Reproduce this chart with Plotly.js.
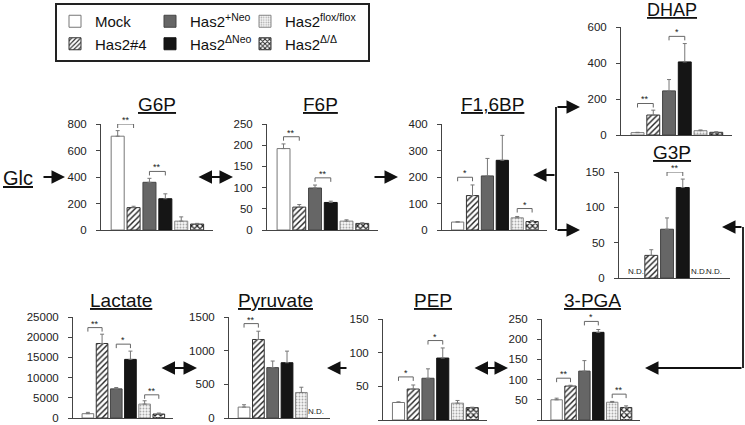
<!DOCTYPE html>
<html>
<head>
<meta charset="utf-8">
<script src="https://cdn.plot.ly/plotly-3.0.1.min.js"></script>
<style>html,body{margin:0;padding:0;background:#fff;}#chart{width:745px;height:425px;}</style>
</head>
<body>
<div id="chart"></div>
<script>
// ---------- DATA ----------
const genotypes = ['Mock', 'Has2#4', 'Has2<sup>+Neo</sup>', 'Has2<sup>ΔNeo</sup>', 'Has2<sup>flox/flox</sup>', 'Has2<sup>Δ/Δ</sup>'];
const metabolites = ['G6P', 'F6P', 'F1,6BP', 'DHAP', 'G3P', 'Lactate', 'Pyruvate', 'PEP', '3-PGA'];

const g6p      = [708, 169, 360, 236, 67, 45];
const g6pErr   = [42, 10, 30, 37, 32, 5];
const f6p      = [192, 54, 99, 65, 21, 15.5];
const f6pErr   = [11, 6, 7, 3, 3, 1.5];
const f16bp    = [30, 130, 204, 263, 46, 32];
const f16bpErr = [1, 40, 66, 94, 5, 4];
const dhap     = [13, 111, 245, 406, 24, 15];
const dhapErr  = [2, 27, 63, 102, 4, 3];
const g3p      = [null, 32, 69, 128, null, null];
const g3pErr   = [null, 8, 16, 12, null, null];
const lactate    = [1066, 18443, 7213, 14508, 3443, 984];
const lactateErr = [330, 2300, 330, 2050, 820, 250];
const pyruvate    = [162, 1166, 748, 821, 379, null];
const pyruvateErr = [35, 123, 98, 172, 78, null];
const pep    = [26, 46, 62, 92, 25, 18.4];
const pepErr = [1, 6, 14, 15, 4, 0.6];
const pga    = [50, 84, 121, 217, 44, 31];
const pgaErr = [4, 2, 26, 7, 2, 4];

const values = [g6p, f6p, f16bp, dhap, g3p, lactate, pyruvate, pep, pga];
const errors = [g6pErr, f6pErr, f16bpErr, dhapErr, g3pErr, lactateErr, pyruvateErr, pepErr, pgaErr];
const yMax   = [800, 250, 400, 600, 150, 25000, 1500, 150, 250];
const yStep  = [200, 50, 100, 200, 50, 5000, 500, 50, 50];

// significance brackets: [bar1, bar2, level, label]
const sig = [
  [[0, 1, 800, '**'], [2, 3, 442, '**']],
  [[0, 1, 220, '**'], [2, 3, 123, '**']],
  [[0, 1, 199, '*'], [4, 5, 81, '*']],
  [[0, 1, 175, '**'], [2, 3, 548, '*']],
  [[2, 3, 150, '**']],
  [[0, 1, 22377, '**'], [2, 3, 18279, '*'], [4, 5, 5738, '**']],
  [[0, 1, 1402, '**']],
  [[0, 1, 64, '*'], [2, 3, 118, '*']],
  [[0, 1, 103.5, '**'], [2, 3, 244, '*'], [4, 5, 64, '**']]
];

// ---------- LAYOUT GEOMETRY (pixels) ----------
const W = 745, H = 425;
const boxes = [ // [left, right, top, bottom]
  [101, 213, 124, 230],
  [267, 378, 124, 230],
  [442, 547, 124, 230],
  [621, 732, 27, 135],
  [619, 730, 172, 278],
  [73, 173, 317, 418],
  [229, 330, 317, 418],
  [383, 487, 319, 420],
  [542, 640, 319, 420]
];
const titlePos = [[157, 104], [320, 104], [492, 104], [672, 10], [672, 152], [121, 300], [275, 300], [433, 300], [592, 300]];
const px = x => x / W, py = y => 1 - y / H;

const FONT = 'Liberation Sans, Arial, sans-serif';
const styles = [
  {color: '#ffffff', line: '#777', pattern: {shape: ''}},
  {color: '#ffffff', line: '#333', pattern: {shape: '/', fgcolor: '#222', bgcolor: '#ffffff', size: 4, solidity: 0.35}},
  {color: '#666666', line: '#444', pattern: {shape: ''}},
  {color: '#151515', line: '#111', pattern: {shape: ''}},
  {color: '#f4f4f4', line: '#888', pattern: {shape: '.', fgcolor: '#aaa', bgcolor: '#f6f6f6', size: 3, solidity: 0.3}},
  {color: '#ffffff', line: '#333', pattern: {shape: 'x', fgcolor: '#222', bgcolor: '#ffffff', size: 4, solidity: 0.5}}
];
const groups = ['a', 'a', 'b', 'b', 'c', 'c'];

const traces = [];
const layout = {
  width: W, height: H,
  margin: {l: 0, r: 0, t: 0, b: 0},
  paper_bgcolor: '#fff', plot_bgcolor: 'rgba(0,0,0,0)',
  barmode: 'overlay',
  font: {family: FONT, color: '#222'},
  showlegend: true,
  legend: {
    orientation: 'h', traceorder: 'grouped',
    x: px(55), y: py(3), xanchor: 'left', yanchor: 'top',
    bordercolor: '#222', borderwidth: 2, bgcolor: '#fff',
    font: {family: FONT, size: 15, color: '#111'},
    entrywidth: 50, entrywidthmode: 'pixels'
  },
  shapes: [], annotations: []
};

metabolites.forEach((m, k) => {
  const n = k + 1;
  const xa = 'x' + n, ya = 'y' + n;
  const b = boxes[k];
  layout['xaxis' + n] = {
    domain: [px(b[0]), px(b[1])], range: [-1.05, 6], anchor: ya,
    showline: true, linecolor: '#444', linewidth: 1, ticks: '', showticklabels: false,
    showgrid: false, zeroline: false, fixedrange: true
  };
  layout['yaxis' + n] = {
    domain: [py(b[3]), py(b[2])], range: [0, yMax[k]], anchor: xa,
    showline: true, linecolor: '#444', linewidth: 1, ticks: 'outside', ticklen: 4, tickcolor: '#444',
    dtick: yStep[k], tick0: 0, tickformat: 'd', ticklabelstandoff: 7,
    tickfont: {family: FONT, size: 11.5, color: '#222'},
    showgrid: false, zeroline: false, fixedrange: true
  };
  genotypes.forEach((g, j) => {
    const st = styles[j];
    traces.push({
      type: 'bar', x: [j], y: [values[k][j]], width: 0.82,
      xaxis: xa, yaxis: ya, name: g, legendgroup: groups[j], showlegend: k === 0,
      legendwidth: j >= 4 ? 78 : undefined,
      marker: {color: st.color, line: {color: st.line, width: 1}, pattern: st.pattern},
      error_y: {type: 'data', symmetric: false, array: [errors[k][j]], arrayminus: [0],
                color: '#777', thickness: 1, width: 2},
      hoverinfo: 'skip'
    });
    if (values[k][j] === null) {
      layout.annotations.push({xref: xa, yref: ya, x: j, y: 0, text: 'N.D.', showarrow: false,
        yanchor: 'bottom', font: {family: FONT, size: 8, color: '#222'}});
    }
  });
  // brackets
  const d = 4 * yMax[k] / (b[3] - b[2]);
  sig[k].forEach(s => {
    layout.shapes.push({type: 'path', xref: xa, yref: ya,
      path: `M ${s[0]},${s[2] - d} L ${s[0]},${s[2]} L ${s[1]},${s[2]} L ${s[1]},${s[2] - d}`,
      line: {color: '#666', width: 1}});
    layout.annotations.push({xref: xa, yref: ya, x: (s[0] + s[1]) / 2, y: s[2], text: s[3],
      showarrow: false, yanchor: 'bottom', yshift: -3, font: {family: FONT, size: 9, color: '#222'}});
  });
  // title
  const t = titlePos[k];
  const fs = k === 3 ? 18 : 19;
  layout.annotations.push({xref: 'paper', yref: 'paper', x: px(t[0]), y: py(t[1]), text: '<u>' + m + '</u>',
    showarrow: false, xanchor: 'center', yanchor: 'middle', font: {family: FONT, size: fs, color: '#111'}});
});

// Glc label
layout.annotations.push({xref: 'paper', yref: 'paper', x: px(18), y: py(178), text: '<u>Glc</u>',
  showarrow: false, xanchor: 'center', yanchor: 'middle', font: {family: FONT, size: 20, color: '#111'}});

// pathway arrows: [tailX, tailY, headX, headY, double]
const arrows = [
  [42, 177, 65, 177, false],
  [197, 177, 233, 177, true],
  [373, 177, 398, 177, false],
  [556, 107, 580, 107, false],
  [556, 230, 580, 230, false],
  [556, 175, 533, 175, false],
  [743, 227, 722, 227, false],
  [743, 368, 645, 368, false],
  [160, 368, 197, 368, true],
  [348, 368, 327, 368, false],
  [473, 368, 508, 368, true]
];
arrows.forEach(a => {
  layout.annotations.push({
    xref: 'paper', yref: 'paper', x: px(a[2]), y: py(a[3]), ax: a[0] - a[2], ay: a[1] - a[3],
    axref: 'pixel', ayref: 'pixel', text: '', showarrow: true,
    arrowhead: 2, arrowsize: 1.5, arrowwidth: 1.8, arrowcolor: '#111',
    arrowside: a[4] ? 'end+start' : 'end', startarrowhead: 2, startarrowsize: 1.5, standoff: 0, startstandoff: 0
  });
});
// connector lines
[[556, 107, 556, 230], [743, 227, 743, 368]].forEach(l => {
  layout.shapes.push({type: 'line', xref: 'paper', yref: 'paper', x0: px(l[0]), y0: py(l[1]), x1: px(l[2]), y1: py(l[3]),
    line: {color: '#111', width: 1.8}});
});

Plotly.newPlot('chart', traces, layout, {displayModeBar: false, responsive: false, staticPlot: true});
</script>
</body>
</html>
